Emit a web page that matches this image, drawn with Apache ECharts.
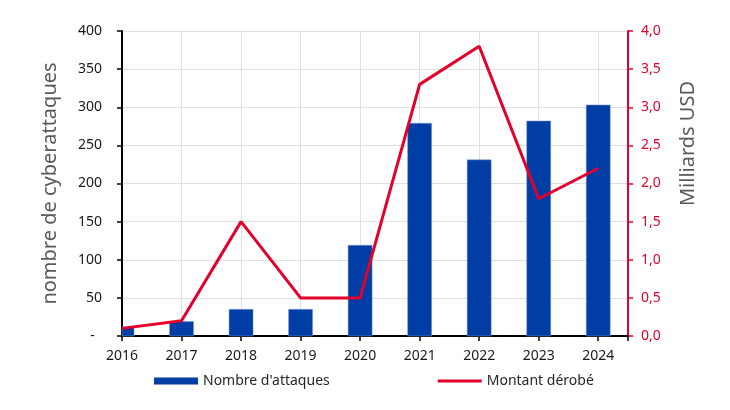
<!DOCTYPE html>
<html>
<head>
    <meta charset="utf-8">
    <title>Cyberattaques</title>
    <script src="https://cdn.jsdelivr.net/npm/echarts@6/dist/echarts.min.js"></script>
    <style>
        body { margin: 0; background: #fff; }
    </style>
</head>
<body>
    <div id="main" style="width: 730px;height:410px;"></div>
    <script type="text/javascript">
        // données
        var annees = [2016, 2017, 2018, 2019, 2020, 2021, 2022, 2023, 2024];
        var attaques = [12, 19, 35, 35, 119, 279, 231, 282, 303];
        var montants = [0.1, 0.2, 1.5, 0.5, 0.5, 3.3, 3.8, 1.8, 2.2];

        var bleu = '#003da5';
        var rouge = '#e4002b';
        var police = '"Noto Sans", sans-serif';

        var barData = [];
        var lineData = [];
        for (var i = 0; i < annees.length; i++) {
            barData.push([annees[i], attaques[i]]);
            lineData.push([annees[i], montants[i]]);
        }

        var myChart = echarts.init(document.getElementById('main'));

        // barres dessinées à la main pour pouvoir les couper au bord du graphique
        function renderBar(params, api) {
            var x = api.value(0);
            var haut = api.coord([x, api.value(1)]);
            var bas = api.coord([x, 0]);
            var larg = 24;
            var rect = echarts.graphic.clipRectByRect({
                x: haut[0] - larg / 2,
                y: haut[1],
                width: larg,
                height: bas[1] - haut[1]
            }, {
                x: params.coordSys.x,
                y: params.coordSys.y,
                width: params.coordSys.width,
                height: params.coordSys.height
            });
            return rect && {
                type: 'rect',
                shape: rect,
                style: api.style({ fill: bleu, stroke: '#7f9bd2', lineWidth: 0.5 })
            };
        }

        var option = {
            animation: false,
            textStyle: { fontFamily: police },
            grid: { left: 122, right: 102, top: 31, bottom: 74 },
            legend: {
                bottom: 17,
                left: 149,
                itemGap: 108,
                itemWidth: 44,
                itemHeight: 7,
                textStyle: { fontSize: 14, color: '#262626', fontFamily: police },
                data: [
                    { name: "Nombre d'attaques", icon: 'rect', itemStyle: { color: bleu, borderWidth: 0 } },
                    { name: 'Montant dérobé', icon: 'path://M0,0 L44,0 L44,3 L0,3 Z', itemStyle: { color: rouge, borderWidth: 0 } }
                ]
            },
            xAxis: {
                type: 'value',
                min: 2016,
                max: 2024.5,
                interval: 1,
                axisLine: { lineStyle: { color: '#000', width: 2 } },
                axisTick: { show: true, length: 5, lineStyle: { color: '#000', width: 1.5 } },
                axisLabel: {
                    fontSize: 14,
                    color: '#1a1a1a',
                    margin: 13,
                    formatter: function (v) {
                        return v % 1 === 0 ? String(v) : '';
                    }
                },
                splitLine: { show: true, lineStyle: { color: '#e0e0e0', width: 1 } }
            },
            yAxis: [
                {
                    type: 'value',
                    min: 0,
                    max: 400,
                    interval: 50,
                    name: 'nombre de cyberattaques',
                    nameLocation: 'middle',
                    nameGap: 62,
                    nameTextStyle: { fontSize: 20, color: '#595959' },
                    axisLine: { show: true, lineStyle: { color: '#000', width: 2 } },
                    axisTick: { show: true, length: 5, lineStyle: { color: '#000', width: 1.5 } },
                    axisLabel: {
                        fontSize: 14,
                        color: '#1a1a1a',
                        margin: 20,
                        formatter: function (v) {
                            return v === 0 ? '-  ' : String(v);
                        }
                    },
                    splitLine: { show: true, lineStyle: { color: '#e0e0e0', width: 1 } }
                },
                {
                    type: 'value',
                    min: 0,
                    max: 4,
                    interval: 0.5,
                    position: 'right',
                    name: 'Milliards USD',
                    nameLocation: 'middle',
                    nameGap: 50,
                    nameTextStyle: { fontSize: 20, color: '#595959', padding: [0, 0, 0, 80] },
                    axisLine: { show: true, lineStyle: { color: rouge, width: 2 } },
                    axisTick: { show: true, length: 5, lineStyle: { color: rouge, width: 1.5 } },
                    axisLabel: {
                        fontSize: 14,
                        color: rouge,
                        margin: 13,
                        formatter: function (v) {
                            return v.toFixed(1).replace('.', ',');
                        }
                    },
                    splitLine: { show: false }
                }
            ],
            series: [
                {
                    name: "Nombre d'attaques",
                    type: 'custom',
                    yAxisIndex: 0,
                    renderItem: renderBar,
                    itemStyle: { color: bleu },
                    encode: { x: 0, y: 1 },
                    data: barData
                },
                {
                    name: 'Montant dérobé',
                    type: 'line',
                    yAxisIndex: 1,
                    symbol: 'none',
                    lineStyle: { color: rouge, width: 3 },
                    itemStyle: { color: rouge },
                    data: lineData
                }
            ]
        };

        myChart.setOption(option);
    </script>
</body>
</html>
